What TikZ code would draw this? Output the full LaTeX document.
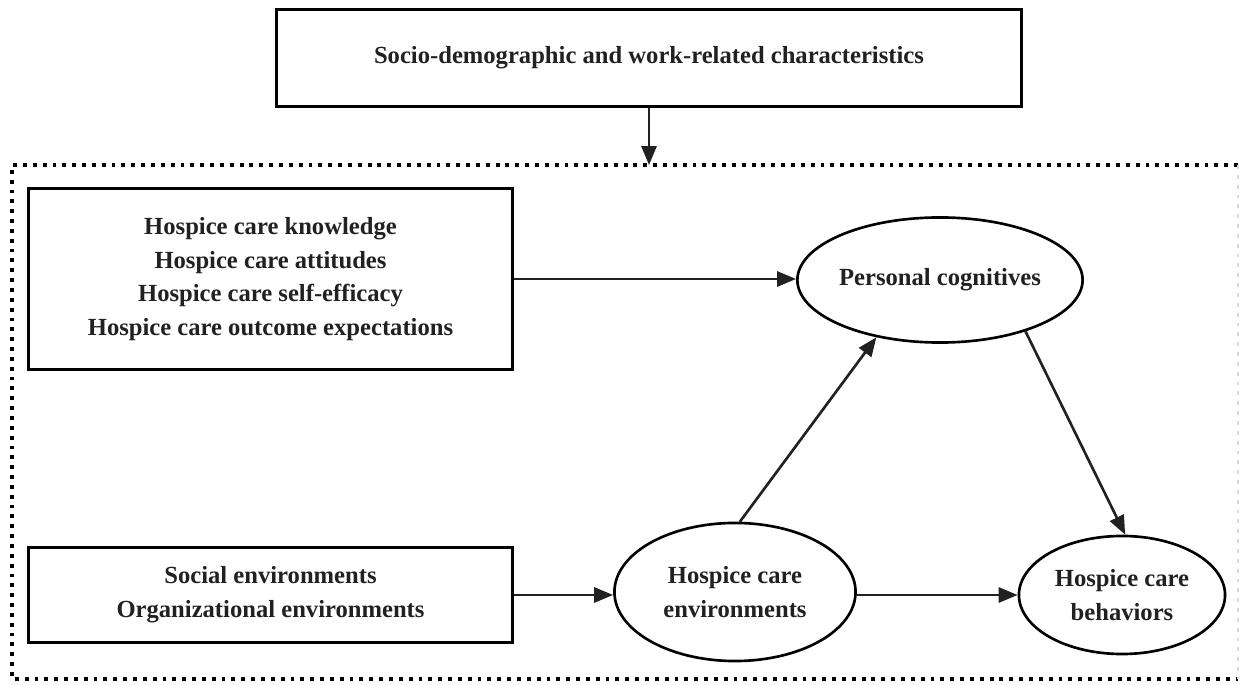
\documentclass[tikz,border=0pt]{standalone}
\usepackage{fontspec}
\setmainfont{Liberation Serif}
\usetikzlibrary{shapes.geometric,arrows.meta}
\definecolor{ink}{rgb}{0.13,0.13,0.13}
\tikzset{
  px/.style={x=0.01cm,y=-0.01cm},
  rbox/.style={draw=black,line width=0.85pt,rectangle,inner sep=0pt,align=center,
     font=\fontsize{7}{9.6}\selectfont\bfseries,text=ink},
  oval/.style={draw=black,line width=0.75pt,ellipse,inner sep=0pt,align=center,
     font=\fontsize{7}{9.6}\selectfont\bfseries,text=ink},
  conn/.style={line width=0.75pt,draw=ink,-{Triangle[length=5.4pt,width=4.3pt]}},
  frame/.style={line width=0.9pt,dash pattern=on 1.1pt off 1.7pt}
}
\begin{document}
\begin{tikzpicture}[px]
\useasboundingbox (0,0) rectangle (1244,685);
% top box
\node[rbox,minimum width=7.44cm,minimum height=0.96cm] (top) at (649,58)
  {Socio-demographic and work-related characteristics};
% dotted frame
\coordinate (ft) at (649,165);
\draw[frame] (1238,165) -- (12,165) -- (12,679) -- (1238,679);
\draw[frame,draw=black!15,line width=0.5pt] (1238,165) -- (1238,679);
\draw[conn] (top.south) -- (ft);
% boxes
\node[rbox,minimum width=4.83cm,minimum height=1.80cm] (b1) at (270.5,279)
  {Hospice care knowledge\\Hospice care attitudes\\Hospice care self-efficacy\\Hospice care outcome expectations};
\node[rbox,minimum width=4.83cm,minimum height=0.94cm] (b2) at (270.5,595)
  {Social environments\\Organizational environments};
% ellipses
\node[oval,minimum width=2.76cm,minimum height=1.25cm] (pc) at (940,280) {Personal cognitives};
\node[oval,minimum width=2.41cm,minimum height=1.38cm] (env) at (735,592) {Hospice care\\environments};
\node[oval,minimum width=2.06cm,minimum height=1.18cm] (beh) at (1122,595) {Hospice care\\behaviors};
% connectors
\draw[conn] (b1.east) -- (b1.east -| pc.west);
\draw[conn] (b2.east) -- (b2.east -| env.west);
\draw[conn] (env.east |- beh.west) -- (beh.west);
\draw[conn] (env.86) -- (pc.222);
\draw[conn] (pc.329) -- (beh.87);
\end{tikzpicture}
\end{document}
